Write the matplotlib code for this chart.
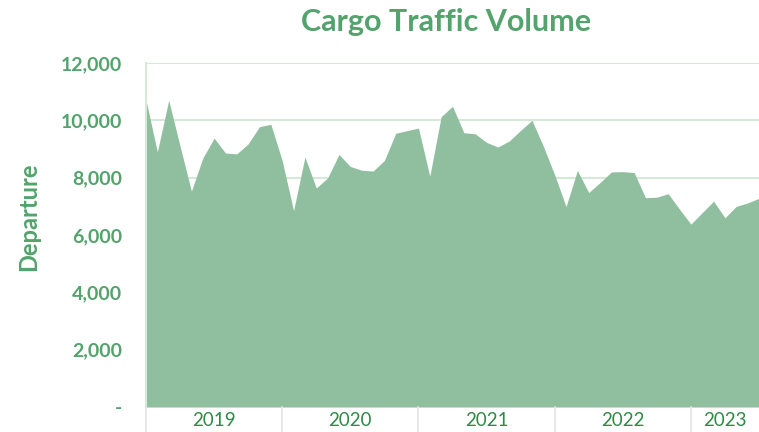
import numpy as np
import matplotlib.pyplot as plt
from matplotlib.ticker import FuncFormatter
import matplotlib.transforms as mtransforms

# monthly departures, Jan 2019 - Jul 2023
departures = [10700, 8900, 10700, 9100, 7530, 8680, 9380, 8860, 8830, 9180, 9780, 9860,
              8590, 6850, 8720, 7640, 7990, 8810, 8390, 8260, 8230, 8600, 9550, 9640,
              9730, 8050, 10130, 10490, 9570, 9530, 9230, 9070, 9280, 9650, 10000, 9100,
              8100, 6990, 8250, 7480, 7830, 8200, 8210, 8180, 7300, 7320, 7440, 6900,
              6380, 6780, 7180, 6600, 7000, 7120, 7280]
years = ['2019', '2020', '2021', '2022', '2023']
year_start = [0, 12, 24, 36, 48]

green_txt = '#52a36c'
year_txt = '#2f8a47'
fill_col = '#90bf9f'
grid_col = '#d6e9d8'

plt.rcParams['font.family'] = ['Lato', 'DejaVu Sans']

fig = plt.figure(figsize=(7.59, 4.32), dpi=100)
ax = fig.add_axes([146/759, 1 - 407/432, 1 - 146/759, (407 - 63)/432])

x = np.arange(len(departures))
ax.fill_between(x, departures, 0, color=fill_col, lw=0, zorder=2)

ax.set_xlim(0, len(departures) - 1)
ax.set_ylim(0, 12000)
ax.set_yticks(range(0, 12001, 2000))
ax.yaxis.set_major_formatter(FuncFormatter(lambda v, p: '-' if v == 0 else f'{int(v):,}'))
ax.set_xticks([])
ax.grid(axis='y', color=grid_col, lw=1.5)
ax.set_axisbelow(True)
for s in ['top', 'right', 'bottom']:
    ax.spines[s].set_visible(False)
ax.spines['left'].set_color(grid_col)
ax.spines['left'].set_linewidth(1.5)
ax.tick_params(axis='y', length=0, pad=17, labelsize=14, labelcolor=green_txt)
for lab in ax.get_yticklabels():
    lab.set_fontweight('bold')

# year groups under the axis
trans = mtransforms.blended_transform_factory(ax.transData, ax.transAxes)
ends = year_start[1:] + [len(departures) - 1]
for yr, a, b in zip(years, year_start, ends):
    ax.text((a + b) / 2, -0.038, yr, transform=trans, ha='center', va='center',
            fontsize=13.5, color=year_txt)
    ax.plot([a, a], [0, -0.08], transform=trans, color='#e3e3e3', lw=1.2, clip_on=False)

fig.text(29/759, 1 - 217/432, 'Departure', rotation=90, ha='center', va='center',
         fontsize=17, fontweight='bold', color=green_txt)
fig.text(446/759, 1 - 22/432, 'Cargo Traffic Volume', ha='center', va='center',
         fontsize=22, fontweight='bold', color=green_txt)

fig.savefig('out.png', dpi=100)
